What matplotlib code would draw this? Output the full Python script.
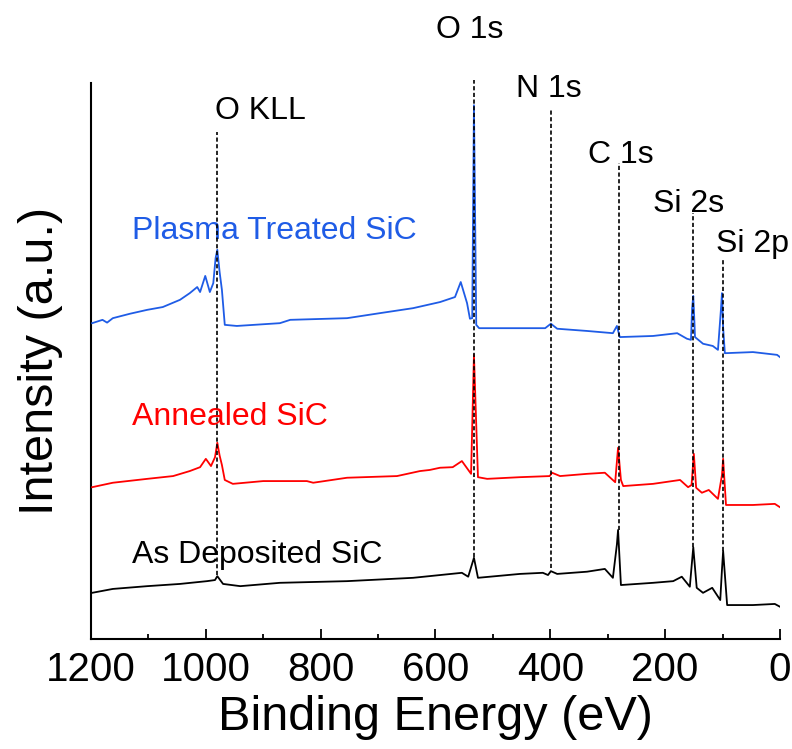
import matplotlib
matplotlib.use("Agg")
import matplotlib.pyplot as plt
from matplotlib.ticker import MultipleLocator

plt.rcParams['font.family'] = ['Liberation Sans', 'DejaVu Sans']

# --- spectra (binding energy in eV, intensity in a.u.) ---
plasma_energy = [1198, 1180, 1172, 1162, 1132, 1102, 1075, 1045, 1028, 1015, 1010, 1001, 993, 987,
                 983, 980, 976, 972, 967, 946, 871, 853, 754, 697, 639, 592, 566, 556, 545, 540,
                 536, 533, 529, 524, 453, 409, 399, 388, 336, 291, 284, 279, 221, 179, 162, 155,
                 153, 151, 149, 148, 134, 117, 108, 103, 101, 99, 96, 47, 5, 0]
plasma_intensity = [56.8, 57.4, 56.9, 57.7, 58.5, 59.2, 59.7, 61.0, 62.2, 63.3, 62.4, 65.3, 62.4, 64.0,
                    68.5, 70.0, 66.0, 62.8, 56.5, 56.3, 56.8, 57.4, 57.7, 58.6, 59.5, 60.6, 61.5, 64.2, 60.4, 57.6,
                    57.7, 96.0, 56.5, 55.9, 55.9, 55.9, 56.7, 55.8, 55.4, 55.0, 56.3, 54.3, 54.5, 55.0, 54.0, 53.8,
                    59.5, 61.7, 57.0, 54.3, 53.1, 52.7, 52.0, 59.0, 62.2, 56.0, 51.4, 51.6, 51.1, 50.7]

annealed_energy = [1198, 1162, 1102, 1057, 1028, 1010, 1000, 991, 984, 980, 976, 972, 967, 953,
                   900, 824, 813, 754, 667, 627, 610, 592, 570, 554, 538, 533, 526, 510,
                   453, 401, 397, 383, 336, 305, 287, 282, 277, 273, 221, 174, 160, 154,
                   150, 146, 136, 124, 108, 101, 99, 94, 47, 9, 0]
annealed_intensity = [27.3, 28.1, 28.8, 29.3, 30.2, 30.9, 32.4, 31.1, 32.7, 35.3, 33.0, 31.3, 28.6, 27.9,
                      28.4, 28.4, 28.1, 29.0, 29.3, 30.2, 30.4, 30.8, 30.9, 32.0, 29.7, 51.1, 29.1, 28.8,
                      29.1, 29.3, 29.9, 29.3, 29.7, 29.9, 28.2, 34.4, 28.6, 27.5, 27.9, 28.6, 27.3, 27.7,
                      33.3, 27.2, 26.3, 26.8, 25.2, 29.5, 32.4, 24.1, 24.1, 24.3, 23.7]

deposited_energy = [1198, 1162, 1102, 1045, 998, 984, 980, 970, 940, 871, 754, 639, 554,
                    543, 533, 526, 453, 413, 404, 399, 388, 336, 305, 291, 284, 282, 277, 221,
                    186, 171, 157, 151, 145, 134, 118, 104, 101, 99, 92, 47, 9, 0]
deposited_intensity = [8.3, 9.0, 9.5, 9.9, 10.4, 10.6, 11.3, 9.9, 9.5, 10.1, 10.4, 11.0, 11.9,
                       11.2, 14.6, 11.0, 11.7, 11.9, 11.5, 12.2, 11.7, 12.1, 12.6, 11.0, 17.0, 19.6, 9.7, 10.1,
                       10.4, 11.2, 9.4, 16.5, 9.2, 8.3, 9.2, 7.0, 12.5, 15.8, 6.1, 6.1, 6.3, 5.8]

# peak markers: position, label, top/bottom of dashed line, label anchor
peak_names = ["O KLL", "O 1s", "N 1s", "C 1s", "Si 2s", "Si 2p"]
peak_energy = [980, 533, 399, 281, 151, 99]
line_top = [91.2, 100.5, 95.5, 85.6, 76.6, 68.2]
line_bottom = [11.5, 14.7, 12.8, 19.6, 16.5, 15.8]
label_energy = [984, 599, 460, 334, 221, 111]
label_level = [93.5, 108.1, 97.5, 85.6, 76.8, 69.6]

sample_names = ["Plasma Treated SiC", "Annealed SiC", "As Deposited SiC"]
sample_colors = ["#1f5ce6", "#ff0000", "#000000"]
sample_level = [71.9, 38.5, 13.7]

fig = plt.figure(figsize=(7.92, 7.49), dpi=100)
ax = fig.add_axes([0.1149, 0.1469, 0.8699, 0.7423])

spectra = [(plasma_energy, plasma_intensity),
           (annealed_energy, annealed_intensity),
           (deposited_energy, deposited_intensity)]
for (e, i), col in zip(spectra, sample_colors):
    ax.plot(e, i, color=col, linewidth=1.3, zorder=3)

for name, col, lvl in zip(sample_names, sample_colors, sample_level):
    ax.text(1129, lvl, name, color=col, fontsize=23, ha='left', va='baseline')

# dashed guide lines + element labels
for name, e, top, bot, le, ll in zip(peak_names, peak_energy, line_top, line_bottom,
                                     label_energy, label_level):
    ax.plot([e, e], [bot, top], color='black', linewidth=1.2,
            linestyle=(0, (2.5, 1.5)), zorder=4, clip_on=False)
    ax.text(le, ll, name, fontsize=23, ha='left', va='baseline', clip_on=False)

ax.set_xlim(1200, 0)
ax.set_ylim(0, 100)

ax.spines['top'].set_visible(False)
ax.spines['right'].set_visible(False)
ax.spines['left'].set_linewidth(1.5)
ax.spines['bottom'].set_linewidth(1.5)

ax.xaxis.set_major_locator(MultipleLocator(200))
ax.xaxis.set_minor_locator(MultipleLocator(100))
ax.tick_params(axis='x', which='major', direction='in', length=7, width=1.3,
               labelsize=29, pad=9)
ax.tick_params(axis='x', which='minor', direction='in', length=3.5, width=1.3)
ax.set_yticks([])

ax.set_xlabel("Binding Energy (eV)", fontsize=35, labelpad=4)
ax.set_ylabel("Intensity (a.u.)", fontsize=35, labelpad=20)

fig.savefig("out.png", dpi=100)
plt.close(fig)
